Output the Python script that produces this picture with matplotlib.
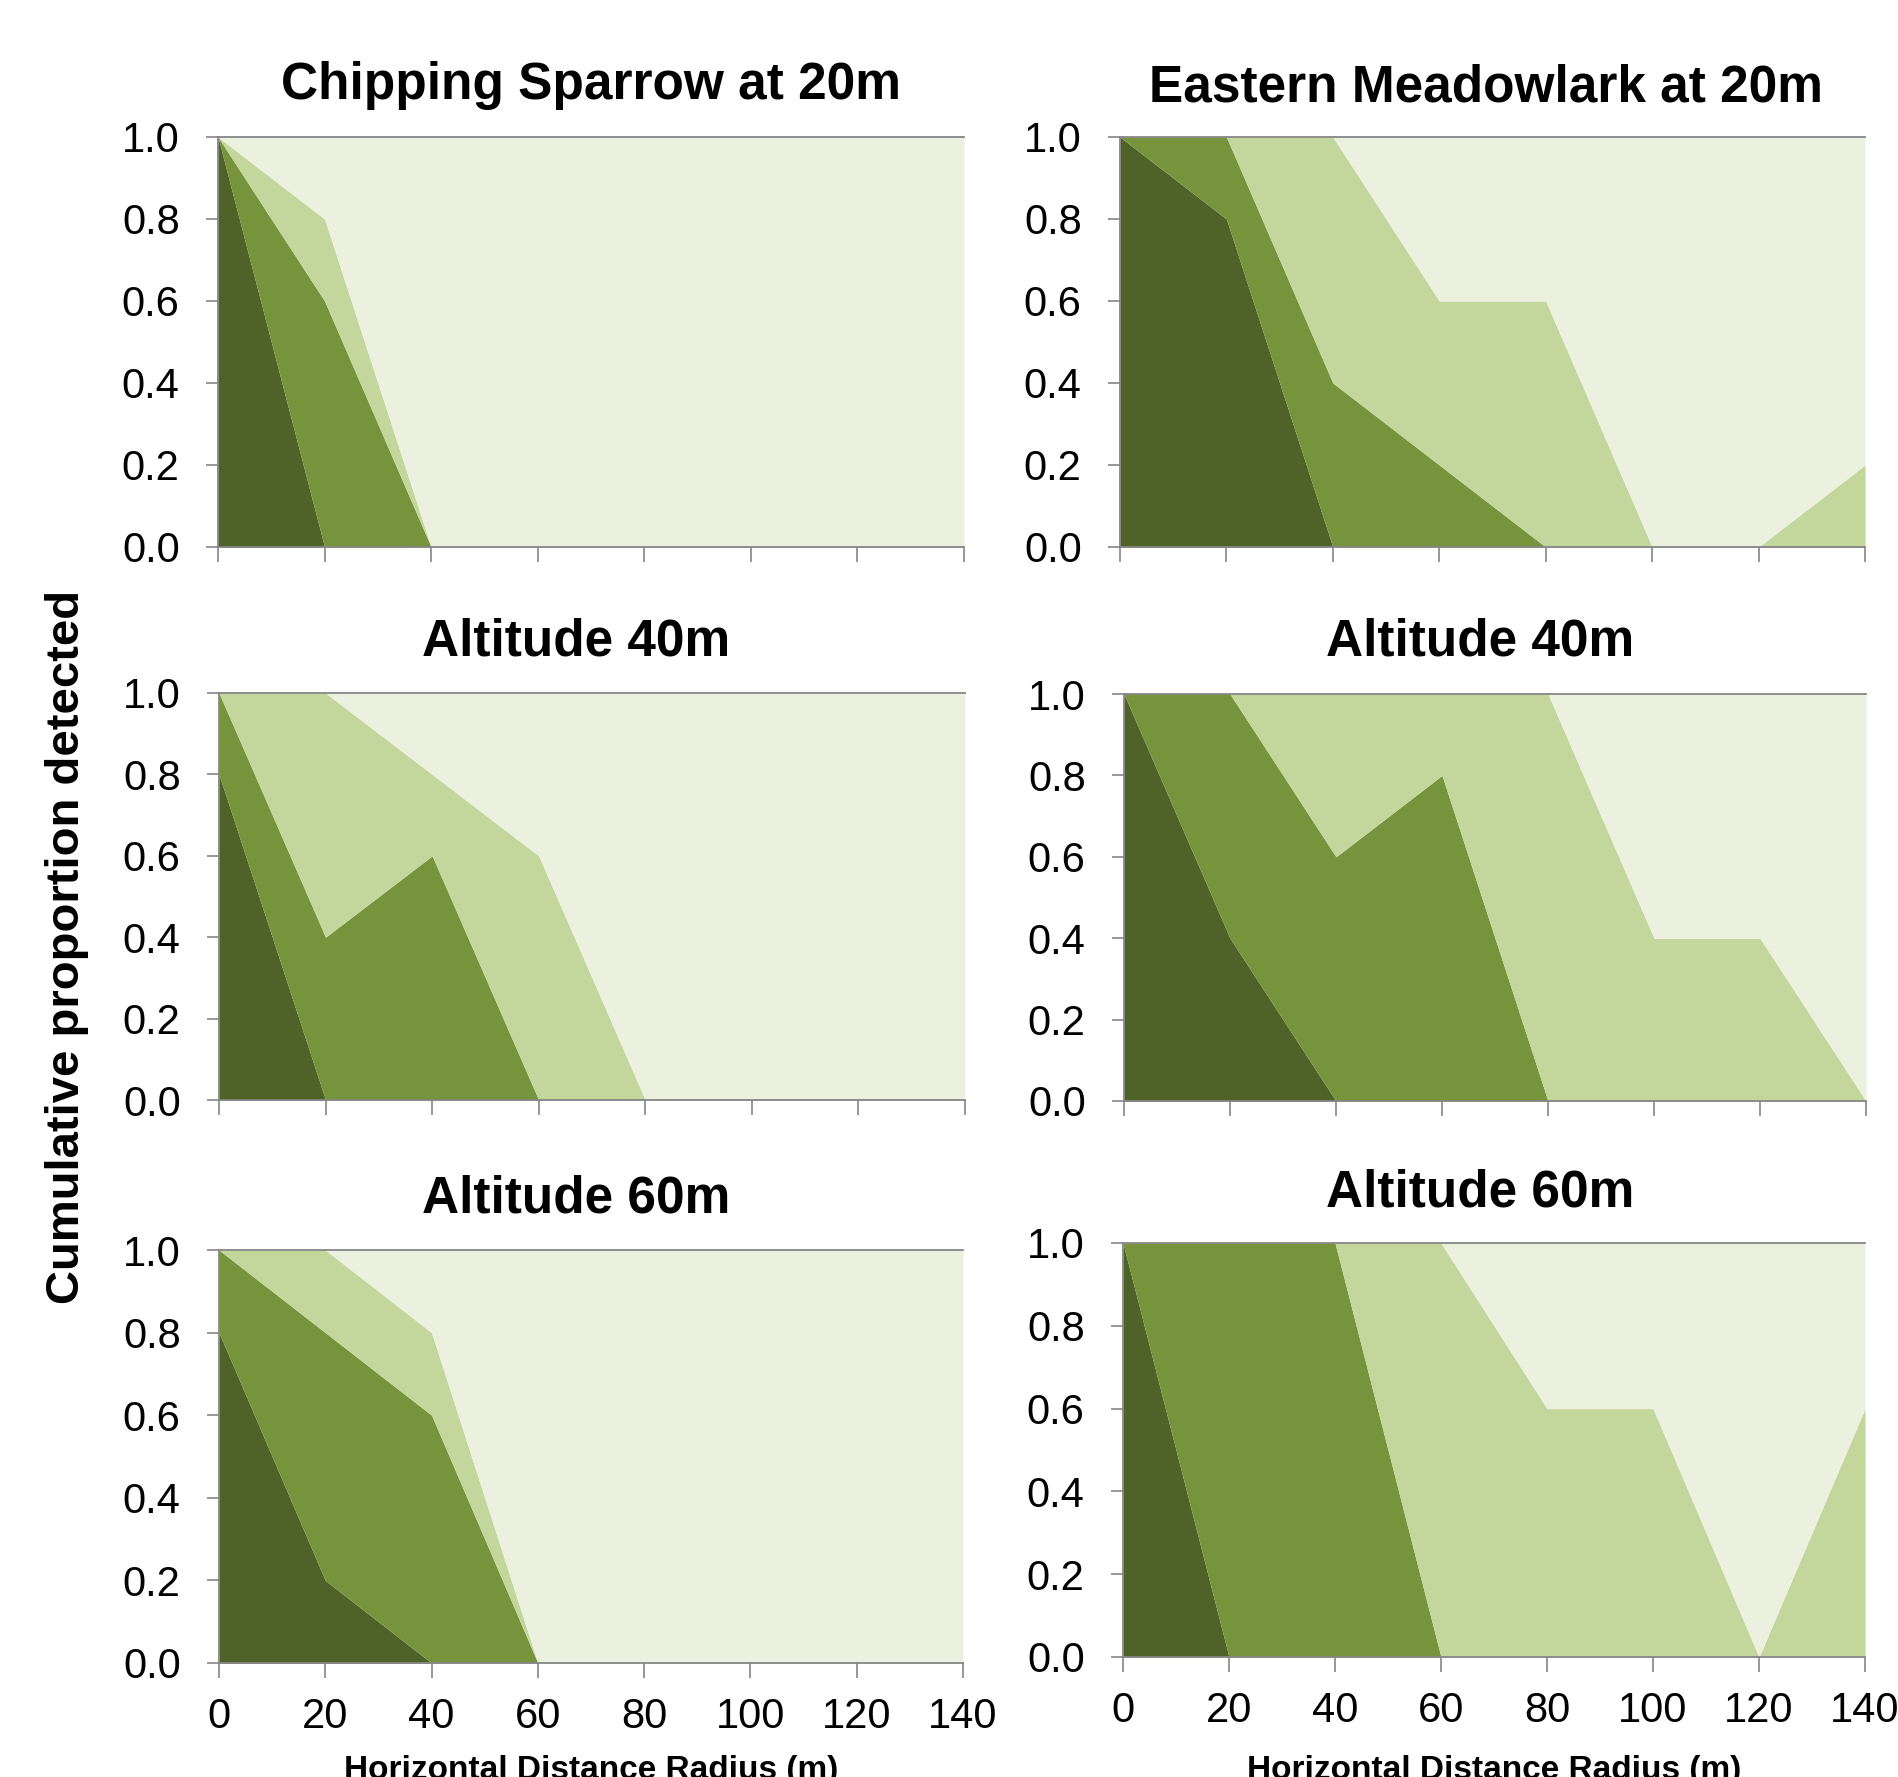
import numpy as np
import matplotlib.pyplot as plt

plt.rcParams['font.family'] = ['Liberation Sans', 'DejaVu Sans']

distance = [0, 20, 40, 60, 80, 100, 120, 140]

# cumulative proportion detected, one list per boundary (dark -> light)
sparrow20_a = [1.0, 0.0, 0.0, 0.0, 0.0, 0.0, 0.0, 0.0]
sparrow20_b = [1.0, 0.6, 0.0, 0.0, 0.0, 0.0, 0.0, 0.0]
sparrow20_c = [1.0, 0.8, 0.0, 0.0, 0.0, 0.0, 0.0, 0.0]

meadow20_a = [1.0, 0.8, 0.0, 0.0, 0.0, 0.0, 0.0, 0.0]
meadow20_b = [1.0, 1.0, 0.4, 0.2, 0.0, 0.0, 0.0, 0.0]
meadow20_c = [1.0, 1.0, 1.0, 0.6, 0.6, 0.0, 0.0, 0.2]

sparrow40_a = [0.8, 0.0, 0.0, 0.0, 0.0, 0.0, 0.0, 0.0]
sparrow40_b = [1.0, 0.4, 0.6, 0.0, 0.0, 0.0, 0.0, 0.0]
sparrow40_c = [1.0, 1.0, 0.8, 0.6, 0.0, 0.0, 0.0, 0.0]

meadow40_a = [1.0, 0.4, 0.0, 0.0, 0.0, 0.0, 0.0, 0.0]
meadow40_b = [1.0, 1.0, 0.6, 0.8, 0.0, 0.0, 0.0, 0.0]
meadow40_c = [1.0, 1.0, 1.0, 1.0, 1.0, 0.4, 0.4, 0.0]

sparrow60_a = [0.8, 0.2, 0.0, 0.0, 0.0, 0.0, 0.0, 0.0]
sparrow60_b = [1.0, 0.8, 0.6, 0.0, 0.0, 0.0, 0.0, 0.0]
sparrow60_c = [1.0, 1.0, 0.8, 0.0, 0.0, 0.0, 0.0, 0.0]

meadow60_a = [1.0, 0.0, 0.0, 0.0, 0.0, 0.0, 0.0, 0.0]
meadow60_b = [1.0, 1.0, 1.0, 0.0, 0.0, 0.0, 0.0, 0.0]
meadow60_c = [1.0, 1.0, 1.0, 1.0, 0.6, 0.6, 0.0, 0.6]

titles = ['Chipping Sparrow at 20m', 'Eastern Meadowlark at 20m',
          'Altitude 40m', 'Altitude 40m', 'Altitude 60m', 'Altitude 60m']
yticks = [0.0, 0.2, 0.4, 0.6, 0.8, 1.0]
colors = ['#4f6228', '#77933c', '#c3d69b', '#ebf1de']
axis_gray = '#868686'

W, H = 1899, 1777
fig = plt.figure(figsize=(W / 100, H / 100), dpi=100)


def panel(left, top, right, bottom):
    return fig.add_axes([left / W, 1 - bottom / H, (right - left) / W, (bottom - top) / H])


rects = [(218, 137, 964, 547), (1120, 137, 1865, 547),
         (219, 693, 965, 1100), (1124, 694, 1866, 1101),
         (219, 1250, 963, 1663), (1123, 1243, 1865, 1657)]
title_pos = [(591, 85), (1486, 88), (576, 642), (1480, 642), (576, 1199), (1480, 1193)]
series = [(sparrow20_a, sparrow20_b, sparrow20_c), (meadow20_a, meadow20_b, meadow20_c),
          (sparrow40_a, sparrow40_b, sparrow40_c), (meadow40_a, meadow40_b, meadow40_c),
          (sparrow60_a, sparrow60_b, sparrow60_c), (meadow60_a, meadow60_b, meadow60_c)]

for i, (rect, (a, b, c)) in enumerate(zip(rects, series)):
    ax = panel(*rect)
    x = np.array(distance)
    levels = [np.zeros(len(x)), np.array(a), np.array(b), np.array(c), np.ones(len(x))]
    for k in range(4):
        ax.fill_between(x, levels[k], levels[k + 1], color=colors[k], lw=0)
    ax.set_xlim(0, 140)
    ax.set_ylim(0, 1)
    ax.set_xticks(distance)
    ax.set_yticks(yticks)
    ax.set_yticklabels([f'{v:.1f}' for v in yticks])
    ax.tick_params(axis='y', length=8.6, width=1.2, color=axis_gray, pad=19, labelsize=30)
    ax.tick_params(axis='x', length=10.5, width=1.2, color=axis_gray, pad=14, labelsize=30)
    if i < 4:
        ax.set_xticklabels([])
    for side in ['left', 'bottom', 'top']:
        ax.spines[side].set_color(axis_gray)
        ax.spines[side].set_linewidth(1.3)
        ax.spines[side].set_zorder(5)
    ax.spines['right'].set_visible(False)
    tx, ty = title_pos[i]
    fig.text(tx / W, 1 - ty / H, titles[i], ha='center', va='center',
             fontsize=37, fontweight='bold')

fig.text(67 / W, 1 - 947 / H, 'Cumulative proportion detected', rotation=90,
         ha='center', va='center', fontsize=34, fontweight='bold')
for cx in [591, 1494]:
    fig.text(cx / W, -2 / H, 'Horizontal Distance Radius (m)', ha='center',
             va='baseline', fontsize=24, fontweight='bold')

fig.savefig('out.png', dpi=100, facecolor='white')
